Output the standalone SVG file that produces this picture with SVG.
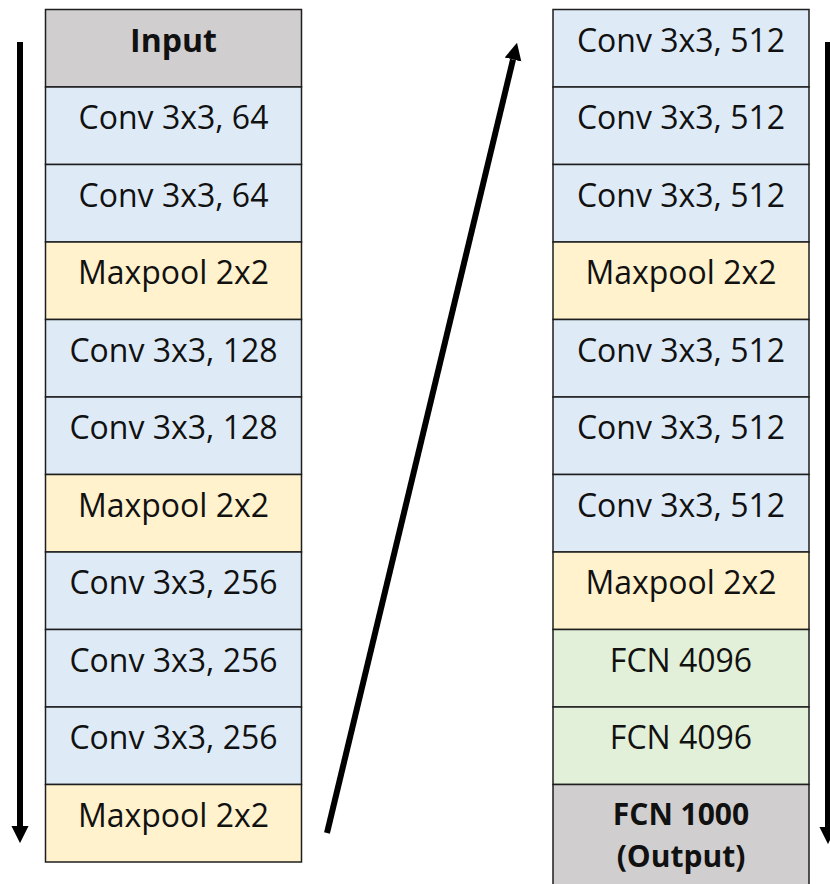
<svg xmlns="http://www.w3.org/2000/svg" width="830" height="884" viewBox="0 0 830 884">
  <style>
    .cell { stroke: #1e1e1e; stroke-width: 1.5; }
    .io { fill: #d0cece; }
    .conv { fill: #deebf7; }
    .pool { fill: #fff2cc; }
    .fc { fill: #e2f0d9; }
    text { font-family: "Open Sans", "Noto Sans", sans-serif; font-size: 32px; fill: #111; text-anchor: middle; }
    .b { font-weight: bold; }
    .out { font-size: 30px; }
    .flow { stroke: #000; stroke-width: 6; fill: none; }
  </style>
  <defs>
    <!-- triangular head placed past the end of the shaft -->
    <marker id="head" viewBox="0 0 10 10" refX="0" refY="5" markerWidth="2.85" markerHeight="3" orient="auto" markerUnits="strokeWidth">
      <path d="M0,0 L10,5 L0,10 z" fill="#000"/>
    </marker>
  </defs>

  <!-- connectors -->
  <g id="connectors">
    <line class="flow" x1="20" y1="42" x2="20" y2="826" marker-end="url(#head)"/>
    <line class="flow" x1="327" y1="833" x2="513" y2="59.5" marker-end="url(#head)"/>
    <line class="flow" x1="828" y1="42" x2="828" y2="827" marker-end="url(#head)"/>
  </g>

  <!-- left column -->
  <g id="input"><rect class="cell io" x="45.5" y="9.5" width="256" height="77.5"/><text class="b" x="173.5" y="51.5">Input</text></g>
  <g id="conv1_1"><rect class="cell conv" x="45.5" y="87" width="256" height="77.5"/><text x="173.5" y="129">Conv 3x3, 64</text></g>
  <g id="conv1_2"><rect class="cell conv" x="45.5" y="164.5" width="256" height="77.5"/><text x="173.5" y="206.5">Conv 3x3, 64</text></g>
  <g id="pool1"><rect class="cell pool" x="45.5" y="242" width="256" height="77.5"/><text x="173.5" y="284">Maxpool 2x2</text></g>
  <g id="conv2_1"><rect class="cell conv" x="45.5" y="319.5" width="256" height="77.5"/><text x="173.5" y="361.5">Conv 3x3, 128</text></g>
  <g id="conv2_2"><rect class="cell conv" x="45.5" y="397" width="256" height="77.5"/><text x="173.5" y="439">Conv 3x3, 128</text></g>
  <g id="pool2"><rect class="cell pool" x="45.5" y="474.5" width="256" height="77.5"/><text x="173.5" y="516.5">Maxpool 2x2</text></g>
  <g id="conv3_1"><rect class="cell conv" x="45.5" y="552" width="256" height="77.5"/><text x="173.5" y="594">Conv 3x3, 256</text></g>
  <g id="conv3_2"><rect class="cell conv" x="45.5" y="629.5" width="256" height="77.5"/><text x="173.5" y="671.5">Conv 3x3, 256</text></g>
  <g id="conv3_3"><rect class="cell conv" x="45.5" y="707" width="256" height="77.5"/><text x="173.5" y="749">Conv 3x3, 256</text></g>
  <g id="pool3"><rect class="cell pool" x="45.5" y="784.5" width="256" height="77.5"/><text x="173.5" y="826.5">Maxpool 2x2</text></g>

  <!-- right column -->
  <g id="conv4_1"><rect class="cell conv" x="553" y="9.5" width="256" height="77.5"/><text x="681" y="51.5">Conv 3x3, 512</text></g>
  <g id="conv4_2"><rect class="cell conv" x="553" y="87" width="256" height="77.5"/><text x="681" y="129">Conv 3x3, 512</text></g>
  <g id="conv4_3"><rect class="cell conv" x="553" y="164.5" width="256" height="77.5"/><text x="681" y="206.5">Conv 3x3, 512</text></g>
  <g id="pool4"><rect class="cell pool" x="553" y="242" width="256" height="77.5"/><text x="681" y="284">Maxpool 2x2</text></g>
  <g id="conv5_1"><rect class="cell conv" x="553" y="319.5" width="256" height="77.5"/><text x="681" y="361.5">Conv 3x3, 512</text></g>
  <g id="conv5_2"><rect class="cell conv" x="553" y="397" width="256" height="77.5"/><text x="681" y="439">Conv 3x3, 512</text></g>
  <g id="conv5_3"><rect class="cell conv" x="553" y="474.5" width="256" height="77.5"/><text x="681" y="516.5">Conv 3x3, 512</text></g>
  <g id="pool5"><rect class="cell pool" x="553" y="552" width="256" height="77.5"/><text x="681" y="594">Maxpool 2x2</text></g>
  <g id="fc6"><rect class="cell fc" x="553" y="629.5" width="256" height="77.5"/><text x="681" y="671.5">FCN 4096</text></g>
  <g id="fc7"><rect class="cell fc" x="553" y="707" width="256" height="77.5"/><text x="681" y="749">FCN 4096</text></g>
  <g id="output"><rect class="cell io" x="553" y="784.5" width="256" height="110"/><text class="b out" x="681" y="825">FCN 1000</text><text class="b out" x="681" y="866.5">(Output)</text></g>
</svg>
